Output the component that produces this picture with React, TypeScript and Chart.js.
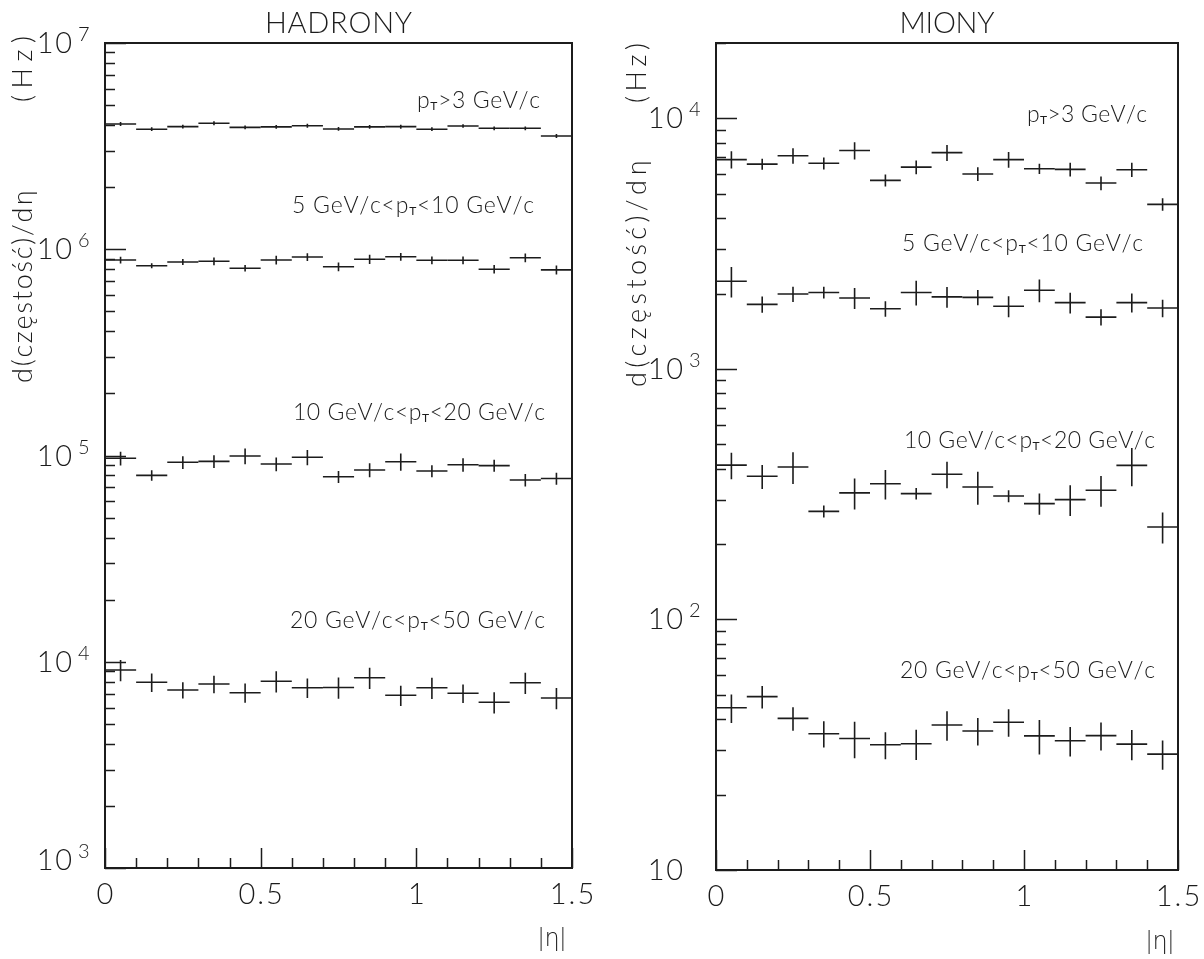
import React, { useEffect, useRef } from "react";
import { Chart, registerables } from "chart.js";

Chart.register(...registerables);

// ---------------- data ----------------
const etaBinCenters = [0.05, 0.15, 0.25, 0.35, 0.45, 0.55, 0.65, 0.75, 0.85, 0.95, 1.05, 1.15, 1.25, 1.35, 1.45];
const etaBinHalfWidth = 0.05;

// HADRONY (Hz)
const hadPt3 = [4.05e6, 3.82e6, 3.93e6, 4.08e6, 3.9e6, 3.92e6, 3.97e6, 3.83e6, 3.92e6, 3.93e6, 3.82e6, 3.96e6, 3.86e6, 3.86e6, 3.54e6];
const hadPt3Err = [90000, 80000, 80000, 90000, 80000, 80000, 90000, 80000, 80000, 90000, 80000, 80000, 80000, 80000, 80000];
const hadPt5to10 = [8.87e5, 8.32e5, 8.67e5, 8.74e5, 8.09e5, 8.87e5, 9.17e5, 8.23e5, 8.94e5, 9.2e5, 8.84e5, 8.84e5, 8.0e5, 9.1e5, 7.94e5];
const hadPt5to10Err = [33000, 23000, 29000, 37000, 30000, 43000, 39000, 40000, 47000, 40000, 38000, 38000, 38000, 44000, 40000];
const hadPt10to20 = [9.69e4, 8.01e4, 9.27e4, 9.37e4, 9.94e4, 9.09e4, 9.8e4, 7.89e4, 8.51e4, 9.33e4, 8.41e4, 9.02e4, 8.93e4, 7.61e4, 7.73e4];
const hadPt10to20Err = [7500, 4600, 6600, 6700, 8600, 7000, 8300, 5300, 6600, 9000, 5600, 6900, 6000, 5300, 5200];
const hadPt20to50 = [9120, 7950, 7290, 7800, 7080, 8040, 7480, 7500, 8370, 6880, 7480, 7030, 6360, 7910, 6670];
const hadPt20to50Err = [1080, 810, 660, 760, 760, 950, 810, 890, 990, 780, 880, 720, 750, 930, 790];

// MIONY (Hz)
const muPt3 = [6850, 6570, 7100, 6620, 7450, 5660, 6390, 7300, 6000, 6850, 6300, 6260, 5520, 6240, 4540];
const muPt3Err = [540, 330, 500, 360, 590, 310, 400, 540, 380, 490, 300, 390, 350, 410, 260];
const muPt5to10 = [2240, 1810, 1990, 2020, 1920, 1740, 2020, 1940, 1930, 1780, 2060, 1840, 1610, 1840, 1750];
const muPt5to10Err = [310, 135, 140, 110, 185, 125, 230, 185, 135, 170, 215, 175, 120, 160, 140];
const muPt10to20 = [413, 373, 406, 270, 320, 348, 318, 380, 338, 311, 290, 301, 328, 412, 234];
const muPt10to20Err = [50, 41, 59, 15, 45, 47, 17, 46, 51, 17, 28, 42, 46, 72, 33];
const muPt20to50 = [44.4, 49.2, 40.3, 35.0, 33.5, 31.6, 31.9, 37.9, 35.9, 38.9, 34.3, 32.8, 34.4, 31.8, 29.0];
const muPt20to50Err = [5.8, 5.1, 4.3, 4.2, 5.6, 3.9, 4.4, 5.1, 4.5, 4.9, 5.4, 4.4, 4.4, 4.4, 3.9];

// ticks & labels
const xTickValues = [0, 0.5, 1, 1.5];
const xTickLabels = ["0", "0.5", "1", "1.5"];
const hadYTickValues = [1e3, 1e4, 1e5, 1e6, 1e7];
const hadYTickExponents = ["3", "4", "5", "6", "7"];
const muYTickValues = [10, 100, 1000, 10000];
const muYTickExponents = ["", "2", "3", "4"];
const cutPrefixes = ["", "5 GeV/c<", "10 GeV/c<", "20 GeV/c<"];
const cutSuffixes = [">3 GeV/c", "<10 GeV/c", "<20 GeV/c", "<50 GeV/c"];
const yAxisTitle = "d(częstość)/dη";
const yAxisUnit = "(Hz)";
const xAxisTitle = "|η|";
const panelTitles = ["HADRONY", "MIONY"];

// ---------------- styling / layout ----------------
const FAMILY = "Lato, 'Open Sans', 'DejaVu Sans', sans-serif";
const GREEK_FAMILY = "'DejaVu Sans', sans-serif";
const INK = "#1c1c1c";

type Run = { text: string; size: number; dy?: number; weight?: number };

function fontFor(ch: string, size: number, weight: number) {
  const greek = /[\u0370-\u03ff]/.test(ch);
  return greek ? `200 ${Math.round(size * 0.92)}px ${GREEK_FAMILY}` : `${weight} ${size}px ${FAMILY}`;
}

function drawRuns(
  ctx: CanvasRenderingContext2D,
  runs: Run[],
  x: number,
  y: number,
  align: "left" | "center" | "right",
  opts: { target?: number; spacing?: number } = {}
) {
  const glyphs: { ch: string; font: string; dy: number; w: number }[] = [];
  for (const r of runs) {
    for (const ch of Array.from(r.text)) {
      const font = fontFor(ch, r.size, r.weight ?? 300);
      ctx.font = font;
      glyphs.push({ ch, font, dy: r.dy ?? 0, w: ctx.measureText(ch).width });
    }
  }
  const natural = glyphs.reduce((s, g) => s + g.w, 0);
  const gaps = Math.max(1, glyphs.length - 1);
  const ls = opts.target !== undefined ? (opts.target - natural) / gaps : opts.spacing ?? 0;
  const total = natural + ls * (glyphs.length - 1);
  let cx = align === "left" ? x : align === "center" ? x - total / 2 : x - total;
  ctx.textAlign = "left";
  ctx.textBaseline = "alphabetic";
  for (const g of glyphs) {
    ctx.font = g.font;
    ctx.fillText(g.ch, cx, y + g.dy);
    cx += g.w + ls;
  }
}

type Series = { values: number[]; errors: number[] };

type PanelCfg = {
  key: string;
  left: number;
  width: number;
  height: number;
  padding: { left: number; right: number; top: number; bottom: number };
  yMin: number;
  yMax: number;
  title: string;
  titleWidth: number;
  series: Series[];
  yTickValues: number[];
  yTickExponents: string[];
  bottomLabelLift: number;
  cutRight: number[];
  cutCenterY: number[];
  cutWidths: number[];
  yTitleX: number;
  yTitleStart: number;
  yTitleLen: number;
  yUnitStart: number;
  yUnitLen: number;
  xTitleRight: number;
  xTitleBaseline: number;
};

const panels: PanelCfg[] = [
  {
    key: "had",
    left: 0,
    width: 600,
    height: 959,
    padding: { left: 105, right: 28, top: 43, bottom: 91 },
    yMin: 1e3,
    yMax: 1e7,
    title: panelTitles[0],
    titleWidth: 147,
    series: [
      { values: hadPt3, errors: hadPt3Err },
      { values: hadPt5to10, errors: hadPt5to10Err },
      { values: hadPt10to20, errors: hadPt10to20Err },
      { values: hadPt20to50, errors: hadPt20to50Err },
    ],
    yTickValues: hadYTickValues,
    yTickExponents: hadYTickExponents,
    bottomLabelLift: 8,
    cutRight: [540, 534, 545, 545],
    cutCenterY: [100, 205, 412, 620],
    cutWidths: [123, 242, 252, 255],
    yTitleX: 32,
    yTitleStart: 383,
    yTitleLen: 193,
    yUnitStart: 102,
    yUnitLen: 66,
    xTitleRight: 566,
    xTitleBaseline: 946,
  },
  {
    key: "mu",
    left: 600,
    width: 604,
    height: 959,
    padding: { left: 116, right: 26, top: 43, bottom: 89 },
    yMin: 10,
    yMax: 2e4,
    title: panelTitles[1],
    titleWidth: 95,
    series: [
      { values: muPt3, errors: muPt3Err },
      { values: muPt5to10, errors: muPt5to10Err },
      { values: muPt10to20, errors: muPt10to20Err },
      { values: muPt20to50, errors: muPt20to50Err },
    ],
    yTickValues: muYTickValues,
    yTickExponents: muYTickExponents,
    bottomLabelLift: 0,
    cutRight: [547, 543, 555, 555],
    cutCenterY: [114, 243, 440, 670],
    cutWidths: [120, 241, 251, 255],
    yTitleX: 46,
    yTitleStart: 387,
    yTitleLen: 227,
    yUnitStart: 103,
    yUnitLen: 60,
    xTitleRight: 574,
    xTitleBaseline: 949,
  },
];

function makeDecorPlugin(p: PanelCfg) {
  return {
    id: "decor-" + p.key,
    afterDatasetsDraw(chart: any) {
      const { ctx } = chart;
      const xs = chart.scales.x;
      const ys = chart.scales.y;
      ctx.save();
      ctx.strokeStyle = INK;
      ctx.lineWidth = 1.6;
      chart.data.datasets.forEach((ds: any) => {
        ds.data.forEach((pt: { x: number; y: number }, i: number) => {
          const err = ds.yErr[i];
          const px = xs.getPixelForValue(pt.x);
          const py = ys.getPixelForValue(pt.y);
          const x0 = xs.getPixelForValue(pt.x - etaBinHalfWidth);
          const x1 = xs.getPixelForValue(pt.x + etaBinHalfWidth);
          const yTop = ys.getPixelForValue(pt.y + err);
          const yBot = ys.getPixelForValue(pt.y - err);
          ctx.beginPath();
          ctx.moveTo(x0, py);
          ctx.lineTo(x1, py);
          ctx.moveTo(px, yTop);
          ctx.lineTo(px, yBot);
          ctx.stroke();
        });
      });
      ctx.restore();
    },
    afterDraw(chart: any) {
      const { ctx, chartArea: a } = chart;
      const xs = chart.scales.x;
      const ys = chart.scales.y;
      ctx.save();
      ctx.strokeStyle = INK;
      ctx.fillStyle = INK;

      // frame
      ctx.lineWidth = 2;
      ctx.strokeRect(a.left, a.top, a.right - a.left, a.bottom - a.top);

      // y ticks (log minor + major)
      ctx.lineWidth = 1.5;
      const lo = Math.floor(Math.log10(p.yMin));
      const hi = Math.ceil(Math.log10(p.yMax));
      ctx.beginPath();
      for (let k = lo; k <= hi; k++) {
        for (let m = 1; m <= 9; m++) {
          const v = m * Math.pow(10, k);
          if (v < p.yMin * 0.9999 || v > p.yMax * 1.0001) continue;
          const py = Math.round(ys.getPixelForValue(v)) + 0.5;
          const len = m === 1 ? 21 : 10;
          ctx.moveTo(a.left, py);
          ctx.lineTo(a.left + len, py);
        }
      }
      // x ticks
      for (let i = 0; i <= 15; i++) {
        const v = i / 10;
        const px = Math.round(xs.getPixelForValue(v)) + 0.5;
        const len = i % 5 === 0 ? 20 : 10;
        ctx.moveTo(px, a.bottom);
        ctx.lineTo(px, a.bottom - len);
      }
      ctx.stroke();

      // y tick labels
      p.yTickValues.forEach((v, i) => {
        let py = ys.getPixelForValue(v);
        if (i === 0) py -= p.bottomLabelLift;
        drawRuns(ctx, [{ text: "10", size: 29 }], a.left - 33, py + 10, "right", { spacing: 1.5 });
        const e = p.yTickExponents[i];
        if (e) drawRuns(ctx, [{ text: e, size: 20 }], a.left - 27, py - 2, "left");
      });

      // x tick labels
      xTickValues.forEach((v, i) => {
        const px = xs.getPixelForValue(v);
        drawRuns(ctx, [{ text: xTickLabels[i], size: 29 }], px, a.bottom + 36, "center", { spacing: 2 });
      });

      // x axis title
      drawRuns(ctx, [{ text: xAxisTitle, size: 26 }], p.xTitleRight, p.xTitleBaseline, "right", { target: 28 });

      // panel title
      drawRuns(ctx, [{ text: p.title, size: 29 }], (a.left + a.right) / 2, 33, "center", { target: p.titleWidth });

      // cut annotations
      cutPrefixes.forEach((pre, i) => {
        drawRuns(
          ctx,
          [
            { text: pre, size: 23 },
            { text: "p", size: 23 },
            { text: "T", size: 12, dy: 2, weight: 400 },
            { text: cutSuffixes[i], size: 23 },
          ],
          p.cutRight[i],
          p.cutCenterY[i] + 8,
          "right",
          { target: p.cutWidths[i] }
        );
      });

      // rotated y axis title
      ctx.save();
      ctx.translate(p.yTitleX, p.yTitleStart);
      ctx.rotate(-Math.PI / 2);
      drawRuns(ctx, [{ text: yAxisTitle, size: 27 }], 0, 0, "left", { target: p.yTitleLen });
      ctx.restore();
      ctx.save();
      ctx.translate(p.yTitleX, p.yUnitStart);
      ctx.rotate(-Math.PI / 2);
      drawRuns(ctx, [{ text: yAxisUnit, size: 27 }], 0, 0, "left", { target: p.yUnitLen });
      ctx.restore();

      ctx.restore();
    },
  };
}

function Panel({ cfg }: { cfg: PanelCfg }) {
  const ref = useRef<HTMLCanvasElement | null>(null);
  useEffect(() => {
    if (!ref.current) return;
    const chart = new Chart(ref.current, {
      type: "scatter",
      data: {
        datasets: cfg.series.map((s, si) => ({
          label: "s" + si,
          data: etaBinCenters.map((x, i) => ({ x, y: s.values[i] })),
          yErr: s.errors,
          pointRadius: 0,
          pointHoverRadius: 0,
          showLine: false,
        })) as any,
      },
      options: {
        responsive: false,
        maintainAspectRatio: false,
        animation: false,
        devicePixelRatio: 1,
        layout: { padding: cfg.padding },
        plugins: { legend: { display: false }, tooltip: { enabled: false }, title: { display: false } },
        events: [],
        scales: {
          x: { type: "linear", min: 0, max: 1.5, display: false },
          y: { type: "logarithmic", min: cfg.yMin, max: cfg.yMax, display: false },
        },
      },
      plugins: [makeDecorPlugin(cfg)],
    });
    return () => chart.destroy();
  }, [cfg]);
  return (
    <canvas
      ref={ref}
      width={cfg.width}
      height={cfg.height}
      style={{ position: "absolute", left: cfg.left, top: 0, width: cfg.width, height: cfg.height, display: "block" }}
    />
  );
}

export default function App() {
  return (
    <div style={{ position: "absolute", left: 0, top: 0, width: 1204, height: 959, background: "#ffffff" }}>
      {panels.map((p) => (
        <Panel key={p.key} cfg={p} />
      ))}
    </div>
  );
}
